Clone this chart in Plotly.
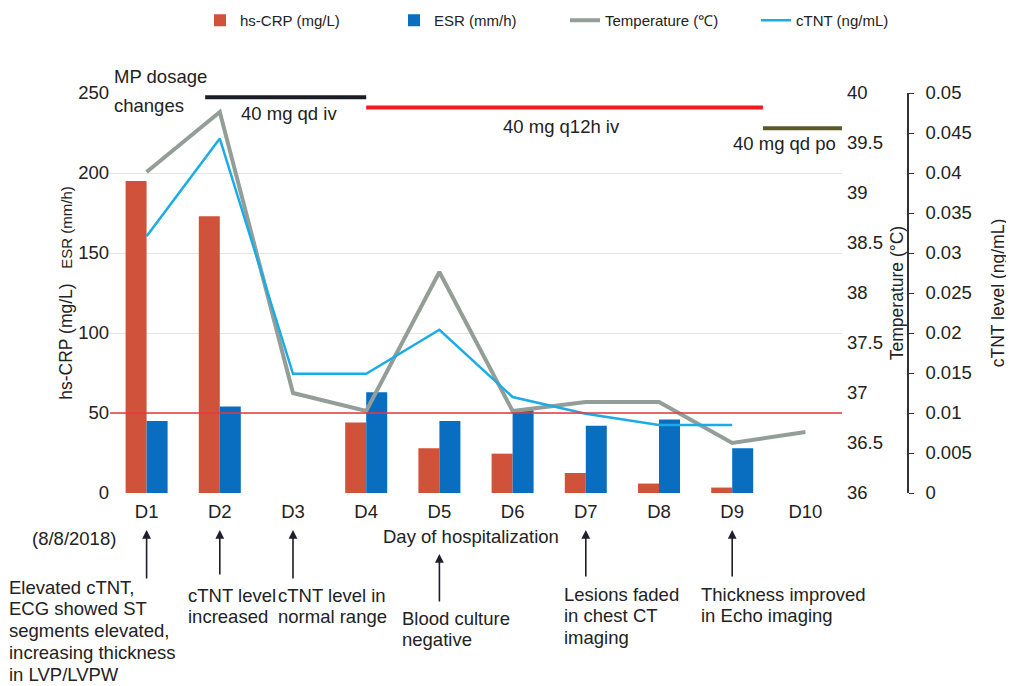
import plotly.graph_objects as go

# ---------------- data ----------------
days = ["D1", "D2", "D3", "D4", "D5", "D6", "D7", "D8", "D9", "D10"]
hs_crp = [195, 173, None, 44, 28, 24.6, 12.5, 5.9, 3.4, None]          # mg/L
esr = [45, 54, None, 63, 45, 51.7, 42, 46, 28, None]                     # mm/h
temperature = [39.21, 39.81, 37.0, 36.82, 38.21, 36.82, 36.91, 36.91, 36.5, 36.61]  # °C
ctnt = [0.0321, 0.0443, 0.0149, 0.0149, 0.0204, 0.012, 0.0099, 0.0085, 0.0085, None]  # ng/mL
reference_level = 50

# MP dosage periods (start / end in day-index units)
dose_labels = ["40 mg qd iv", "40 mg q12h iv", "40 mg qd po"]
dose_start = [0.8, 3.0, 8.42]
dose_end = [3.0, 8.42, 9.5]
dose_level = [247.3, 241.0, 228.0]
dose_colors = ["#1c1c26", "#ee1c1c", "#5a5a28"]

# events (day index, text lines)
event_day = [0, 1, 2, 4, 6, 8]
event_lines = [
    ["Elevated cTNT,", "ECG showed ST", "segments elevated,", "increasing thickness", "in LVP/LVPW"],
    ["cTNT level", "increased"],
    ["cTNT level in", "normal range"],
    ["Blood culture", "negative"],
    ["Lesions faded", "in chest CT", "imaging"],
    ["Thickness improved", "in Echo imaging"],
]

# ---------------- layout helpers (screen pixel -> paper) ----------------
OFF = 8                      # page body margin of the html file
W, H = 1006, 678
ML, MR, MT, MB = 102, 0, 85, 193
PW, PH = W - ML - MR, H - MT - MB


def px(x):
    return (x - OFF - ML) / PW


def py(y):
    return (H - MB - (y - OFF)) / PH


FONT = "Liberation Sans, Arial, Helvetica, sans-serif"
TXT = "#222222"
FS = 18.5

fig = go.Figure()
fig.add_trace(go.Bar(x=days, y=hs_crp, name="hs-CRP (mg/L)", marker_color="#D1523B",
                     marker_line_width=0, legendwidth=149))
fig.add_trace(go.Bar(x=days, y=esr, name="ESR (mm/h)", marker_color="#0A6EC0",
                     marker_line_width=0, legendwidth=126))
fig.add_trace(go.Scatter(x=days, y=temperature, name="Temperature (℃)", mode="lines",
                         line=dict(color="#949E98", width=4), yaxis="y2", legendwidth=146))
fig.add_trace(go.Scatter(x=days, y=ctnt, name="cTNT (ng/mL)", mode="lines",
                         line=dict(color="#1BACE6", width=2.5), yaxis="y3"))

shapes = [dict(type="line", xref="x domain", yref="y", x0=0, x1=1,
               y0=reference_level, y1=reference_level,
               line=dict(color="#E8373C", width=1.3), layer="above")]
for s, e, lv, c in zip(dose_start, dose_end, dose_level, dose_colors):
    shapes.append(dict(type="line", xref="x", yref="y", x0=s, x1=e,
                       y0=lv, y1=lv, line=dict(color=c, width=4), layer="above"))

ann = []
# dosage texts
ann.append(dict(text="MP dosage", xref="paper", yref="paper", x=px(112), y=py(76),
                xanchor="left", yanchor="middle", showarrow=False))
ann.append(dict(text="changes", xref="paper", yref="paper", x=px(112), y=py(106),
                xanchor="left", yanchor="middle", showarrow=False))
dose_text_pos = [(289, 113), (561, 127), (784, 144)]
for t, (tx, ty) in zip(dose_labels, dose_text_pos):
    ann.append(dict(text=t, xref="paper", yref="paper", x=px(tx), y=py(ty),
                    xanchor="center", yanchor="middle", showarrow=False))

# x-axis extra texts
ann.append(dict(text="(8/8/2018)", xref="paper", yref="paper", x=px(30), y=py(538),
                xanchor="left", yanchor="middle", showarrow=False))
ann.append(dict(text="Day of hospitalization", xref="paper", yref="paper", x=px(471), y=py(536),
                xanchor="center", yanchor="middle", showarrow=False))

# arrows
arrow_head = [530, 530, 530, 554, 530, 530]
arrow_tail = [580, 576, 580, 603, 578, 578]
for d, h, t in zip(event_day, arrow_head, arrow_tail):
    ann.append(dict(text="", xref="x", yref="paper", x=d, y=py(h), ax=0, ay=t - h,
                    showarrow=True, arrowhead=2, arrowsize=1.1, arrowwidth=1.6,
                    arrowcolor="#1f1f2a", standoff=0, startstandoff=0))

# event texts (one annotation per line)
event_pos = [(7, 587), (186, 595), (276, 595), (400, 618), (562, 594), (699, 594)]
PITCH = 21.8
for lines, (tx, ty) in zip(event_lines, event_pos):
    for i, line in enumerate(lines):
        ann.append(dict(text=line, xref="paper", yref="paper", x=px(tx), y=py(ty + i * PITCH),
                        xanchor="left", yanchor="middle", align="left", showarrow=False))

fig.update_layout(
    width=W, height=H,
    margin=dict(l=ML, r=MR, t=MT, b=MB, autoexpand=False),
    paper_bgcolor="white", plot_bgcolor="white",
    font=dict(family=FONT, size=FS, color=TXT),
    barmode="group", bargap=0.426, bargroupgap=0,
    showlegend=True,
    legend=dict(orientation="h", x=px(200), y=py(4), xanchor="left", yanchor="top",
                font=dict(size=15, color=TXT), entrywidth=127, bgcolor="rgba(0,0,0,0)"),
    xaxis=dict(domain=[0, (842 - OFF - ML) / PW], type="category", range=[-0.5, 9.5],
               showgrid=False, showline=False, ticks="", zeroline=False,
               ticklabelstandoff=5, tickfont=dict(size=FS, color=TXT)),
    yaxis=dict(range=[0, 250], dtick=50, showgrid=True, gridcolor="#e4e4e4", gridwidth=1,
               zeroline=False, showline=False, ticks="",
               tickfont=dict(size=FS, color=TXT),
               title=dict(text="hs-CRP (mg/L)\u00a0\u00a0\u00a0<span style='font-size:15px'>ESR (mm/h)</span>",
                          font=dict(size=17.5, color=TXT), standoff=1)),
    yaxis2=dict(overlaying="y", side="right", anchor="x", range=[36, 40], dtick=0.5,
                showgrid=False, zeroline=False, showline=False, ticks="",
                ticklabelstandoff=4, tickfont=dict(size=FS, color=TXT),
                title=dict(text="Temperature (°C)", font=dict(size=17.5, color=TXT), standoff=8)),
    yaxis3=dict(overlaying="y", side="right", anchor="free", position=(908 - OFF - ML) / PW,
                range=[0, 0.05], dtick=0.005, showgrid=False, zeroline=False,
                showline=True, linecolor="#333333", linewidth=1.5,
                ticks="outside", ticklen=5, tickcolor="#333333", ticklabelstandoff=8,
                tickfont=dict(size=FS, color=TXT),
                title=dict(text="cTNT level (ng/mL)", font=dict(size=17.5, color=TXT), standoff=20)),
    shapes=shapes,
    annotations=ann,
)

fig.write_html("out.html")
